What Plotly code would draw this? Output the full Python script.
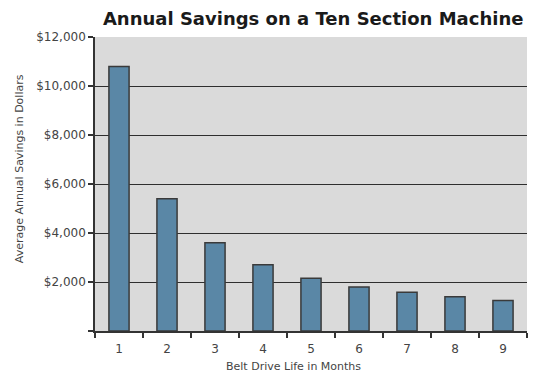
import plotly.graph_objects as go

months = ["1", "2", "3", "4", "5", "6", "7", "8", "9"]
savings = [10800, 5400, 3600, 2700, 2150, 1800, 1580, 1400, 1250]
y_ticks = [0, 2000, 4000, 6000, 8000, 10000, 12000]
y_tick_labels = ["", "$2,000", "$4,000", "$6,000", "$8,000", "$10,000", "$12,000"]

fig = go.Figure()
fig.add_trace(go.Bar(
    x=months, y=savings,
    marker=dict(color="#5a87a6", line=dict(color="#3a3a3a", width=1.5)),
    width=0.42,
))

fig.update_layout(
    width=540, height=375,
    margin=dict(l=95, r=13, t=37, b=44),
    paper_bgcolor="white",
    plot_bgcolor="#dadada",
    showlegend=False,
    title=dict(
        text="<b>Annual Savings on a Ten Section Machine</b>",
        font=dict(family="DejaVu Sans", size=18, color="#1a1a1a"),
        x=0.58, xanchor="center", y=0.95, yanchor="middle",
    ),
    font=dict(family="DejaVu Sans", color="#444444"),
    annotations=[
        dict(text="Average Annual Savings in Dollars", textangle=-90,
             xref="paper", yref="paper", x=-0.174, y=0.553,
             xanchor="center", yanchor="middle", showarrow=False,
             font=dict(family="DejaVu Sans", size=11, color="#444444")),
        dict(text="Belt Drive Life in Months",
             xref="paper", yref="paper", x=0.459, y=-0.122,
             xanchor="center", yanchor="middle", showarrow=False,
             font=dict(family="DejaVu Sans", size=11, color="#444444")),
    ],
)

fig.update_xaxes(
    type="category",
    tickson="boundaries",
    ticks="outside", ticklen=5, tickcolor="#333333", tickwidth=1.5,
    showline=True, linecolor="#333333", linewidth=1.5,
    showgrid=False,
    ticklabelstandoff=6,
    tickfont=dict(size=12, color="#444444"),
)
fig.update_yaxes(
    range=[0, 12000],
    tickvals=y_ticks, ticktext=y_tick_labels,
    ticks="outside", ticklen=5, tickcolor="#333333", tickwidth=1.5,
    showline=True, linecolor="#333333", linewidth=1.5,
    showgrid=True, gridcolor="#2e2e2e", gridwidth=1.2,
    zeroline=False,
    tickfont=dict(size=12, color="#444444"),
)

fig.write_html("out.html")
